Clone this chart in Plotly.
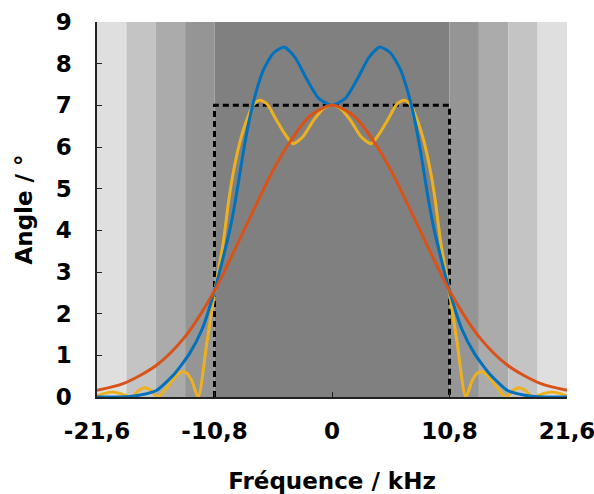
import plotly.graph_objects as go

# ---- data ----
x_ticks = [-21.6, -10.8, 0, 10.8, 21.6]
x_ticktext = ["-21,6", "-10,8", "0", "10,8", "21,6"]
y_ticks = [0, 1, 2, 3, 4, 5, 6, 7, 8, 9]

band_edges = [-21.6, -18.9, -16.2, -13.5, -10.8, 10.8, 13.5, 16.2, 18.9, 21.6]
band_colors = ["#dfdfdf", "#c4c4c4", "#ababab", "#959595", "#808080",
               "#959595", "#ababab", "#c4c4c4", "#dfdfdf"]

target_x = [-10.8, -10.8, 10.8, 10.8]
target_y = [0, 7, 7, 0]

yellow_x = [-21.6, -21.0, -20.2, -19.3, -18.4, -17.8, -17.2, -16.6, -16.0, -15.2,
            -14.5, -13.9, -13.4, -12.9, -12.3, -11.5, -10.8, -10.0, -9.5, -9.1,
            -8.5, -7.85, -7.25, -6.65, -6.0, -5.1, -4.3, -3.6, -2.7, -1.7, -0.8, 0,
            0.8, 1.7, 2.7, 3.6, 4.3, 5.1, 6.0, 6.65, 7.25, 7.85, 8.5, 9.1, 9.5,
            10.0, 10.8, 11.5, 12.3, 12.9, 13.4, 13.9, 14.5, 15.2, 16.0, 16.6, 17.2,
            17.8, 18.4, 19.3, 20.2, 21.0, 21.6]
yellow_y = [0.03, 0.08, 0.12, 0.07, 0.0, 0.15, 0.22, 0.15, 0.0, 0.22,
            0.45, 0.6, 0.58, 0.4, 0.0, 1.3, 2.5, 3.7, 4.7, 5.35,
            6.08, 6.64, 7.0, 7.12, 7.04, 6.64, 6.3, 6.08, 6.24, 6.64, 6.92, 7.0,
            6.92, 6.64, 6.24, 6.08, 6.3, 6.64, 7.04, 7.12, 7.0, 6.64, 6.08, 5.35, 4.7,
            3.7, 2.5, 1.3, 0.0, 0.4, 0.58, 0.6, 0.45, 0.22, 0.0, 0.15, 0.22,
            0.15, 0.0, 0.07, 0.12, 0.08, 0.03]

blue_x = [-21.6, -19.5, -18.3, -17.0, -16.1, -14.6, -13.1, -11.9, -10.8, -10.0,
          -9.4, -8.85, -8.2, -7.6, -7.0, -6.3, -5.4, -4.4, -3.4, -2.3, -1.2, 0,
          1.2, 2.3, 3.4, 4.4, 5.4, 6.3, 7.0, 7.6, 8.2, 8.85, 9.4, 10.0, 10.8,
          11.9, 13.1, 14.6, 16.1, 17.0, 18.3, 19.5, 21.6]
blue_y = [0.0, 0.0, 0.02, 0.08, 0.16, 0.52, 1.04, 1.65, 2.55, 3.35,
          4.0, 4.75, 5.8, 6.65, 7.3, 7.85, 8.25, 8.4, 8.15, 7.62, 7.16, 7.0,
          7.16, 7.62, 8.15, 8.4, 8.25, 7.85, 7.3, 6.65, 5.8, 4.75, 4.0, 3.35, 2.55,
          1.65, 1.04, 0.52, 0.16, 0.08, 0.02, 0.0, 0.0]

red_x = [-21.6, -19.2, -16.2, -13.5, -10.8, -9.0, -7.0, -5.4, -3.8, -2.0, 0,
         2.0, 3.8, 5.4, 7.0, 9.0, 10.8, 13.5, 16.2, 19.2, 21.6]
red_y = [0.16, 0.32, 0.75, 1.45, 2.55, 3.5, 4.6, 5.45, 6.15, 6.75, 7.0,
         6.75, 6.15, 5.45, 4.6, 3.5, 2.55, 1.45, 0.75, 0.32, 0.16]

FONT = "DejaVu Sans"

fig = go.Figure()

fig.add_trace(go.Scatter(x=target_x, y=target_y, mode="lines",
                         line=dict(color="black", width=3, dash="6px,4px"),
                         showlegend=False, hoverinfo="skip"))
fig.add_trace(go.Scatter(x=yellow_x, y=yellow_y, mode="lines",
                         line=dict(color="#EDB120", width=3, shape="spline", smoothing=0.7),
                         showlegend=False))
fig.add_trace(go.Scatter(x=blue_x, y=blue_y, mode="lines",
                         line=dict(color="#0072BD", width=3, shape="spline", smoothing=0.6),
                         showlegend=False))
fig.add_trace(go.Scatter(x=red_x, y=red_y, mode="lines",
                         line=dict(color="#D95319", width=3, shape="spline", smoothing=0.8),
                         showlegend=False))

shapes = []
for i, c in enumerate(band_colors):
    shapes.append(dict(type="rect", xref="x", yref="paper",
                       x0=band_edges[i], x1=band_edges[i + 1], y0=0, y1=1,
                       fillcolor=c, line=dict(width=0), layer="below"))

fig.update_layout(
    width=594, height=494, autosize=False,
    margin=dict(l=97, r=27, t=22, b=97),
    paper_bgcolor="white", plot_bgcolor="white",
    shapes=shapes,
    font=dict(family=FONT, size=23, color="black", weight="bold"),
)
fig.update_xaxes(
    range=[-21.6, 21.6], tickvals=x_ticks, ticktext=x_ticktext,
    ticks="inside", ticklen=5, tickwidth=1, tickcolor="#222",
    showline=True, linecolor="#222", linewidth=1.5,
    showgrid=False, zeroline=False, ticklabelstandoff=13, automargin=False,
    ticklabeloverflow="allow",
    title=dict(text="Fréquence / kHz", standoff=41,
               font=dict(family=FONT, size=23, weight="bold")),
    tickfont=dict(family=FONT, size=23, weight="bold"),
)
fig.update_yaxes(
    range=[0, 9], tickvals=y_ticks,
    ticks="inside", ticklen=5, tickwidth=1, tickcolor="#222",
    showline=True, linecolor="#222", linewidth=1.5,
    showgrid=False, zeroline=False, ticklabelstandoff=19, automargin=False,
    title=dict(text="Angle / °", standoff=17,
               font=dict(family=FONT, size=23, weight="bold")),
    tickfont=dict(family=FONT, size=23, weight="bold"),
)

fig.write_html(
    "out.html",
    config={"displayModeBar": False},
    post_script="document.body.style.margin='0';document.body.style.overflow='hidden';",
)
